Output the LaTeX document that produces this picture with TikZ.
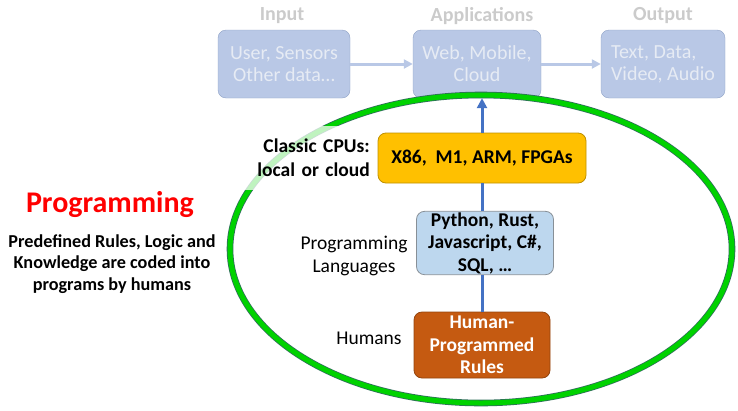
\documentclass[tikz,border=0pt]{standalone}
\usepackage{fontspec}
\setmainfont{Carlito}
\usepackage{tikz}
\usetikzlibrary{arrows.meta,shapes.geometric,positioning}
\definecolor{fadefill}{HTML}{B9C8E6}
\definecolor{fadedraw}{HTML}{8FA2C6}
\definecolor{fadetext}{HTML}{E6EBF4}
\definecolor{fadetitle}{HTML}{CBCBCB}
\definecolor{cpuyellow}{HTML}{FFC000}
\definecolor{langblue}{HTML}{BDD7EE}
\definecolor{rulebrown}{HTML}{C55A11}
\definecolor{linkblue}{HTML}{4472C4}
\definecolor{ringgreen}{HTML}{00D200}
\definecolor{ringedge}{HTML}{2F6F5A}

\begin{document}
\begin{tikzpicture}[x=1pt, y=-1pt,
    oldbox/.style={draw=fadedraw, fill=fadefill, rounded corners=8pt, minimum height=68pt, text=fadetext, font=\fontsize{20}{22}\selectfont, align=center, inner sep=2pt},
    ftitle/.style={text=fadetitle, font=\fontsize{20}{22}\selectfont\bfseries},
    farr/.style={-{Triangle[length=9pt,width=9pt]}, line width=3pt, fadefill},
    stagebox/.style={draw=#1!75!black, fill=#1, rounded corners=8pt, align=center, font=\fontsize{19.5}{22.5}\selectfont\bfseries, line width=0.8pt},
    sidelbl/.style={align=center, font=\fontsize{19.5}{23.5}\selectfont},
    link/.style={line width=3pt, linkblue}
]
\useasboundingbox (0,0) rectangle (738,410);

\node[oldbox, minimum width=132pt] (inp) at (284,64) {User, Sensors\\Other data…};
\node[oldbox, minimum width=128pt] (app) at (477,64) {Web, Mobile,\\Cloud};
\node[oldbox, minimum width=124pt, align=left] (out) at (663,64) {Text, Data,\\Video, Audio};
\node[ftitle] (tinp) at (282,16) {Input};
\node[ftitle] (tapp) at (482,16) {Applications};
\node[ftitle] (tout) at (663,16) {Output};
\draw[farr] (inp) -- (app);
\draw[farr] (app) -- (out);

\draw[draw=ringedge, double=ringgreen, double distance=5pt, line width=0.8pt] (481,249) ellipse [x radius=251, y radius=154];

\node[sidelbl, font=\fontsize{19.5}{24}\selectfont\bfseries, fill=white, fill opacity=0.75, text opacity=1,
      text width=132pt, align=right, minimum height=64pt, inner sep=4pt, anchor=east] (cpulbl) at (374,158) {Classic CPUs:\\local or cloud};
\node[stagebox=cpuyellow, minimum width=208pt, minimum height=50pt] (cpu) at (482,158) {X86,\ \ M1, ARM, FPGAs};
\node[stagebox=langblue, draw=langblue!45!black!70, minimum width=137pt, minimum height=63pt, inner sep=1pt] (lang) at (485,243) {Python, Rust,\\Javascript, C\#,\\SQL, …};
\node[stagebox=rulebrown, text=white, minimum width=136pt, minimum height=66pt, inner sep=1pt] (rules) at (482,345) {Human-\\Programmed\\Rules};
\node[sidelbl] (langlbl) at (354,256) {Programming\\Languages};
\node[sidelbl] (humlbl) at (369,338) {Humans};

\draw[link] (rules.north) -- (rules.north |- lang.south);
\draw[link] (rules.north |- lang.north) -- (rules.north |- cpu.south);
\draw[link, -{Triangle[length=10pt,width=10pt]}] (cpu.north) -- (cpu.north |- app.south);

\node[text=red, font=\fontsize{30}{32}\selectfont\bfseries] (title) at (110,205) {Programming};
\node[align=center, font=\fontsize{18.2}{21.5}\selectfont\bfseries] (blurb) at (112,264) {Predefined Rules, Logic and\\Knowledge are coded into\\programs by humans};
\end{tikzpicture}
\end{document}
